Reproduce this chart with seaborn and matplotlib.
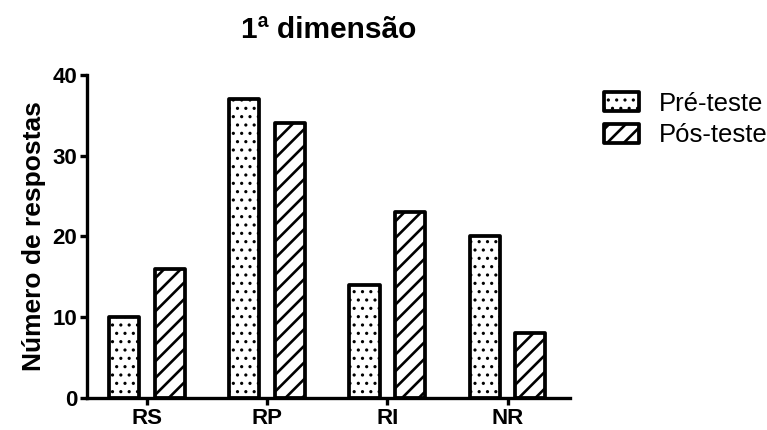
import matplotlib
matplotlib.use("Agg")
import matplotlib.pyplot as plt
import seaborn as sns
import pandas as pd

categories = ["RS", "RP", "RI", "NR"]
pre_teste = [10, 37, 14, 20]
pos_teste = [16, 34, 23, 8]
series_names = ["Pré-teste", "Pós-teste"]
title = "1ª dimensão"
ylabel = "Número de respostas"

df = pd.DataFrame({
    "cat": categories * 2,
    "val": pre_teste + pos_teste,
    "grupo": [series_names[0]] * 4 + [series_names[1]] * 4,
})

sns.set_style("white")
plt.rcParams["font.family"] = ["Liberation Sans", "DejaVu Sans"]
plt.rcParams["hatch.linewidth"] = 1.8
plt.rcParams["text.color"] = "black"
plt.rcParams["axes.labelcolor"] = "black"
plt.rcParams["xtick.color"] = "black"
plt.rcParams["ytick.color"] = "black"

fig = plt.figure(figsize=(7.67, 4.3), dpi=100)
ax = fig.add_axes([87 / 767, 32 / 430, (570 - 87) / 767, (398 - 75) / 430])

sns.barplot(data=df, x="cat", y="val", hue="grupo", order=categories,
            hue_order=series_names, palette=["white", "white"],
            width=0.76, gap=0.34, edgecolor="black", linewidth=2.7,
            errorbar=None, ax=ax, legend=True)

hatches = ["..", "//"]
hatch_lw = [1.1, 1.9]


def style_patch(p, h, lw):
    p.set_hatch(h)
    p.set_edgecolor("black")
    p.set_joinstyle("round")
    if hasattr(p, "set_hatch_linewidth"):
        try:
            p.set_hatch_linewidth(lw)
        except Exception:
            pass


for cont, h, lw in zip(ax.containers, hatches, hatch_lw):
    for p in cont:
        style_patch(p, h, lw)

ax.set_xlim(-0.5, 3.52)
ax.set_ylim(0, 40)
ax.set_yticks([0, 10, 20, 30, 40])
for s in ["top", "right"]:
    ax.spines[s].set_visible(False)
for s in ["left", "bottom"]:
    ax.spines[s].set_linewidth(2.4)
    ax.spines[s].set_color("black")
ax.tick_params(axis="both", direction="out", length=5, width=2.4, color="black",
               labelcolor="black", labelsize=16, pad=2, left=True, bottom=True)
for lab in ax.get_xticklabels() + ax.get_yticklabels():
    lab.set_fontweight("bold")
ax.set_xlabel("")
ax.set_ylabel(ylabel, fontsize=19, fontweight="bold", labelpad=5, color="black")
ax.set_title(title, fontsize=21.5, fontweight="bold", pad=27, color="black")

leg = ax.legend(loc="upper left", bbox_to_anchor=(1.05, 0.98), frameon=False,
                fontsize=18.5, handlelength=1.35, handleheight=0.75,
                labelspacing=0.3, handletextpad=0.75, borderaxespad=0)
for t in leg.get_texts():
    t.set_color("black")
for hnd, h, lw in zip(leg.legend_handles, hatches, hatch_lw):
    style_patch(hnd, h, lw)
    hnd.set_facecolor("white")
    hnd.set_linewidth(2.7)

fig.savefig("out.png", dpi=100)
